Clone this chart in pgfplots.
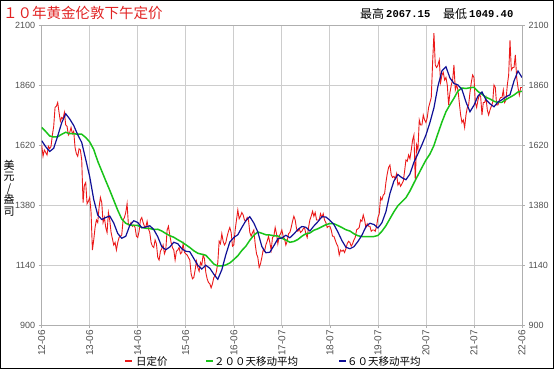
\documentclass[border=0pt]{standalone}
\usepackage{fontspec}
\setmainfont{Liberation Sans}
\newfontfamily\cjk{Noto Sans CJK SC}
\newfontfamily\mono{Liberation Mono}
\usepackage{pgfplots}
\usepackage{pgfplotstable}
\pgfplotsset{compat=1.18}

\definecolor{gridgray}{RGB}{205,205,205}
\definecolor{axgray}{RGB}{175,175,175}
\definecolor{labgray}{RGB}{80,80,80}
\definecolor{pricered}{RGB}{235,25,25}
\definecolor{magreen}{RGB}{25,195,25}
\definecolor{mablue}{RGB}{15,15,150}
\definecolor{titlered}{RGB}{225,35,35}

% daily fixing, three readings per month, June 2012 - June 2022
\pgfplotstableread[row sep=\\]{
y\\
1620\\1575\\1600\\ 1590\\1580\\1615\\ 1605\\1615\\1660\\ 1695\\1770\\1775\\ 1790\\1750\\1715\\ 1730\\1725\\1750\\ 1700\\1695\\1660\\
1670\\1690\\1665\\ 1675\\1610\\1585\\ 1575\\1605\\1600\\ 1560\\1390\\1460\\ 1470\\1385\\1395\\ 1410\\1350\\1200\\ 1240\\1290\\1320\\
1310\\1370\\1410\\ 1390\\1310\\1330\\ 1290\\1270\\1350\\ 1320\\1270\\1245\\ 1220\\1230\\1200\\
1230\\1250\\1255\\ 1260\\1320\\1330\\ 1350\\1385\\1300\\ 1300\\1310\\1295\\ 1300\\1290\\1255\\ 1250\\1275\\1320\\ 1330\\1310\\1295\\
1290\\1315\\1285\\ 1270\\1230\\1215\\ 1210\\1240\\1225\\ 1170\\1160\\1195\\ 1205\\1220\\1185\\
1200\\1280\\1295\\ 1260\\1230\\1210\\ 1200\\1160\\1195\\ 1200\\1210\\1185\\ 1190\\1225\\1190\\ 1185\\1180\\1170\\ 1160\\1105\\1085\\
1090\\1120\\1155\\ 1130\\1115\\1150\\ 1140\\1180\\1165\\ 1110\\1085\\1070\\ 1065\\1049\\1065\\
1090\\1095\\1115\\ 1150\\1235\\1225\\ 1265\\1235\\1220\\ 1230\\1255\\1275\\ 1290\\1270\\1215\\ 1220\\1280\\1320\\ 1360\\1325\\1335\\
1350\\1340\\1320\\ 1315\\1330\\1320\\ 1270\\1255\\1270\\ 1280\\1225\\1185\\ 1170\\1130\\1145\\
1170\\1200\\1195\\ 1220\\1235\\1255\\ 1230\\1200\\1250\\ 1255\\1290\\1265\\ 1225\\1255\\1265\\ 1280\\1255\\1245\\ 1220\\1235\\1265\\
1270\\1290\\1315\\ 1335\\1320\\1285\\ 1275\\1285\\1270\\ 1275\\1285\\1290\\ 1265\\1250\\1290\\
1320\\1335\\1355\\ 1335\\1350\\1320\\ 1320\\1320\\1345\\ 1330\\1345\\1320\\ 1310\\1290\\1295\\ 1295\\1280\\1255\\ 1255\\1240\\1225\\
1215\\1180\\1200\\ 1195\\1200\\1190\\ 1205\\1225\\1235\\ 1230\\1215\\1225\\ 1240\\1250\\1280\\
1285\\1290\\1320\\ 1315\\1340\\1320\\ 1290\\1305\\1295\\ 1295\\1275\\1280\\ 1280\\1275\\1295\\ 1330\\1345\\1410\\ 1400\\1420\\1425\\
1470\\1505\\1530\\ 1540\\1500\\1490\\ 1495\\1485\\1505\\ 1460\\1470\\1455\\ 1465\\1475\\1515\\
1560\\1555\\1580\\ 1565\\1600\\1640\\ 1660\\1480\\1620\\ 1600\\1720\\1700\\ 1700\\1740\\1720\\ 1710\\1730\\1770\\ 1790\\1810\\1950\\
2067\\1940\\1930\\ 1940\\1960\\1870\\ 1900\\1910\\1880\\ 1890\\1860\\1780\\ 1830\\1860\\1880\\
1940\\1840\\1860\\ 1840\\1790\\1740\\ 1710\\1720\\1690\\ 1740\\1770\\1780\\ 1830\\1870\\1900\\ 1890\\1790\\1770\\ 1800\\1820\\1815\\
1740\\1790\\1790\\ 1810\\1760\\1740\\ 1760\\1775\\1790\\ 1860\\1850\\1780\\ 1780\\1800\\1810\\
1810\\1840\\1790\\ 1800\\1860\\1900\\ 2039\\1920\\1930\\ 1930\\1980\\1890\\ 1850\\1820\\1850\\ 1850\\
}\dailytab

% 60-day moving average, one reading per month
\pgfplotstableread[row sep=\\]{
y\\
1637\\1613\\1594\\1607\\1656\\1709\\1745\\1724\\1698\\1661\\
1630\\1562\\1493\\1402\\1340\\1322\\1330\\1336\\1308\\1266\\
1247\\1255\\1298\\1317\\1310\\1289\\1292\\1297\\1282\\1253\\
1213\\1201\\1212\\1231\\1225\\1205\\1195\\1193\\1166\\1139\\
1124\\1139\\1127\\1103\\1083\\1121\\1181\\1232\\1250\\1261\\
1290\\1317\\1333\\1308\\1272\\1214\\1189\\1191\\1217\\1245\\
1248\\1259\\1249\\1264\\1282\\1294\\1291\\1276\\1296\\1313\\
1333\\1332\\1319\\1302\\1272\\1238\\1211\\1205\\1213\\1234\\
1259\\1293\\1307\\1302\\1288\\1309\\1353\\1426\\1476\\1502\\
1489\\1481\\1504\\1551\\1585\\1621\\1660\\1710\\1769\\1855\\
1917\\1933\\1888\\1866\\1860\\1842\\1792\\1753\\1779\\1816\\
1832\\1801\\1785\\1773\\1792\\1801\\1813\\1821\\1876\\1916\\1890\\
}\bluetab

% 200-day moving average, one reading per month
\pgfplotstableread[row sep=\\]{
y\\
1690\\1674\\1656\\1652\\1653\\1663\\1671\\1665\\1665\\1663\\
1663\\1650\\1632\\1602\\1555\\1516\\1477\\1439\\1399\\1359\\
1324\\1307\\1300\\1298\\1298\\1290\\1287\\1286\\1282\\1283\\
1276\\1266\\1257\\1251\\1241\\1232\\1221\\1210\\1197\\1187\\
1183\\1179\\1162\\1144\\1136\\1136\\1140\\1148\\1162\\1177\\
1198\\1215\\1239\\1259\\1272\\1267\\1261\\1260\\1257\\1256\\
1247\\1240\\1231\\1234\\1242\\1255\\1265\\1268\\1279\\1285\\
1293\\1301\\1306\\1305\\1298\\1290\\1281\\1276\\1265\\1257\\
1254\\1253\\1253\\1254\\1258\\1275\\1297\\1325\\1353\\1377\\
1393\\1409\\1436\\1468\\1499\\1530\\1560\\1584\\1618\\1666\\
1712\\1753\\1781\\1807\\1836\\1848\\1846\\1849\\1851\\1834\\
1823\\1811\\1804\\1795\\1790\\1791\\1802\\1811\\1820\\1832\\1835\\
}\greentab

\begin{document}
\begin{tikzpicture}
\pgfplotsset{
  base/.style={
    at={(41.7pt,44pt)}, anchor=south west, scale only axis,
    width=480.3pt, height=300pt,
    xmin=0, xmax=120, ymin=900, ymax=2100,
    ytick={900,1140,1380,1620,1860,2100},
    axis line style={axgray, line width=0.9pt},
    tick style={axgray, line width=0.6pt},
    major tick length=3pt, tick align=outside,
    /pgf/number format/assume math mode=true,
    /pgf/number format/1000 sep={},
    yticklabel style={font=\fontsize{9}{10}\selectfont, text=labgray},
  }
}
\begin{axis}[base,
  xtick={0,12,...,120},
  xticklabels={12-06,13-06,14-06,15-06,16-06,17-07,18-07,19-07,20-07,21-07,22-06},
  xticklabel style={rotate=90, anchor=east, font=\fontsize{10}{11}\selectfont, text=labgray, inner sep=2pt},
  xtick pos=bottom, ytick pos=left,
  grid=major, grid style={gridgray, line width=0.8pt},
  clip=true,
]
\addplot[pricered, line width=0.9pt] table[x expr=\coordindex/3, y=y] {\dailytab};
\addplot[magreen, line width=1.5pt] table[x expr=\coordindex, y=y] {\greentab};
\addplot[mablue, line width=1.2pt] table[x expr=\coordindex, y=y] {\bluetab};
\end{axis}
\begin{axis}[base, hide x axis, axis y line*=right, ytick pos=right, yticklabel pos=right]
\end{axis}

\begin{scope}[x=1pt,y=1pt]
% title and extremes
\node[anchor=west, inner sep=0, text=titlered, font=\cjk\fontsize{14.5}{15}\selectfont] at (3,356) {１０年黄金伦敦下午定价};
\node[anchor=west, inner sep=0, font=\cjk\fontsize{12}{13}\selectfont] at (360,355) {最高};
\node[anchor=west, inner sep=0, font=\mono\bfseries\fontsize{10.5}{12}\selectfont] at (386,355) {2067.15};
\node[anchor=west, inner sep=0, font=\cjk\fontsize{12}{13}\selectfont] at (443,355) {最低};
\node[anchor=west, inner sep=0, font=\mono\bfseries\fontsize{10.5}{12}\selectfont] at (469,355) {1049.40};

% y axis title
\node[font=\cjk\fontsize{11}{11.5}\selectfont, align=center, inner sep=0] at (9,181) {美\\元\\/\\盎\\司};

% legend
\draw[pricered, line width=2pt] (125,7.5) -- (132,7.5);
\node[anchor=west, inner sep=0, font=\cjk\fontsize{10.5}{11}\selectfont] at (136,7) {日定价};
\draw[magreen, line width=2pt] (206,7.5) -- (213,7.5);
\node[anchor=west, inner sep=0, font=\cjk\fontsize{10.5}{11}\selectfont] at (214,7) {２００天移动平均};
\draw[mablue, line width=2pt] (339,7.5) -- (346,7.5);
\node[anchor=west, inner sep=0, font=\cjk\fontsize{10.5}{11}\selectfont] at (347,7) {６０天移动平均};

\pgfresetboundingbox
\useasboundingbox (0,0) rectangle (554,369);
\draw[black, line width=1.2pt] (0.6,0.6) rectangle (553.4,368.4);
\end{scope}
\end{tikzpicture}
\end{document}
